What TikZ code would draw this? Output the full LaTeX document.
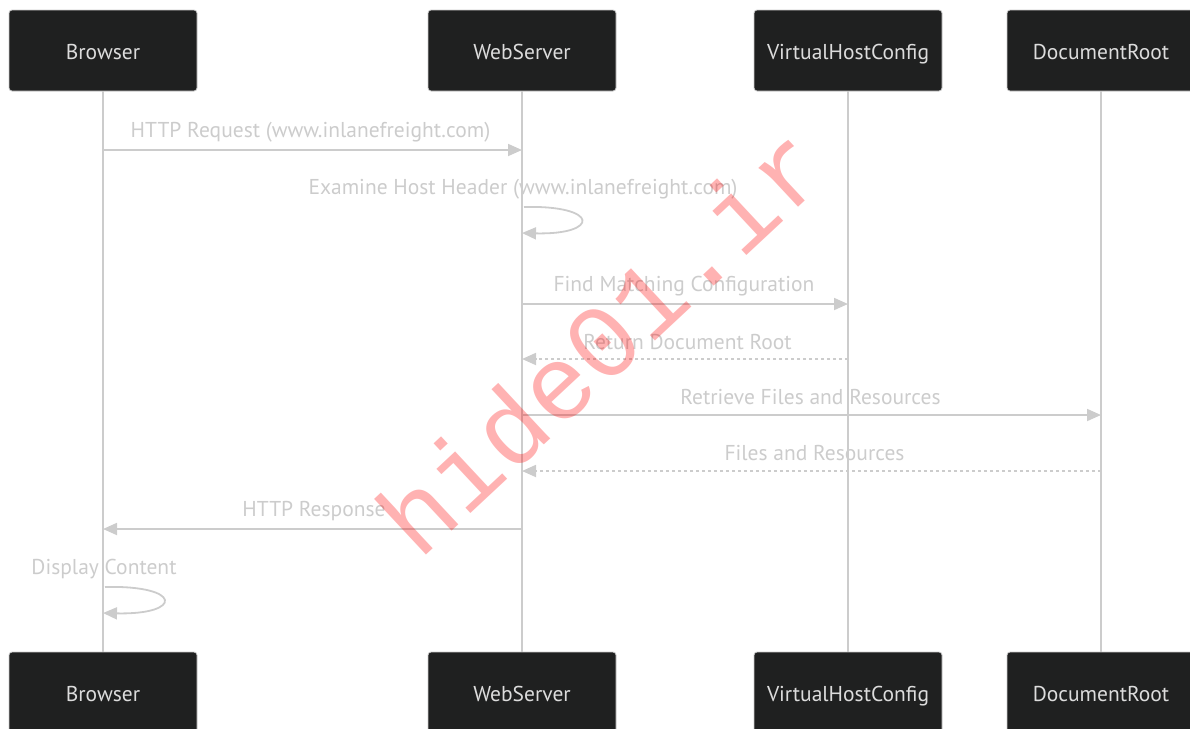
\documentclass[tikz,border=0pt]{standalone}
\usepackage{fontspec}
\setmainfont{PT Sans}
\newfontfamily\wmfont{Liberation Mono}
\usetikzlibrary{arrows.meta}
\definecolor{boxfill}{HTML}{1F2020}
\definecolor{boxtext}{HTML}{DCDCDC}
\definecolor{lline}{HTML}{CCCCCC}
\definecolor{msgtext}{HTML}{CCCCCC}
\tikzset{
  actor/.style={draw=lline, line width=0.8pt, fill=boxfill, rounded corners=3pt, minimum width=188pt, minimum height=81pt, inner sep=0pt, text=boxtext, font=\fontsize{21.5}{24}\selectfont, text height=17pt, text depth=0pt},
  life/.style={draw=lline, line width=2pt},
  msg/.style={draw=lline, line width=1.8pt, -{Triangle[length=14pt,width=12pt]}},
  reply/.style={msg, dash pattern=on 3pt off 3pt},
  lbl/.style={text=msgtext, font=\fontsize{21.5}{24}\selectfont, inner sep=0pt, anchor=base},
}
\begin{document}
\begin{tikzpicture}[x=1pt,y=-1pt]
\useasboundingbox (0,0) rectangle (1190,728);
\clip (0,0) rectangle (1190,728);
% actors
\node[actor] (bT) at (103,50.5) {Browser};
\node[actor] (wT) at (522,50.5) {WebServer};
\node[actor] (vT) at (848,50.5) {VirtualHostConfig};
\node[actor] (dT) at (1101,50.5) {DocumentRoot};
\node[actor] (bB) at (103,692.5) {Browser};
\node[actor] (wB) at (522,692.5) {WebServer};
\node[actor] (vB) at (848,692.5) {VirtualHostConfig};
\node[actor] (dB) at (1101,692.5) {DocumentRoot};
% lifelines
\draw[life] (bT.south) -- (bB.north);
\draw[life] (wT.south) -- (wB.north);
\draw[life] (vT.south) -- (vB.north);
\draw[life] (dT.south) -- (dB.north);
% message points
\coordinate (b1) at (103,150); \coordinate (w1) at (522,150);
\coordinate (w2a) at (524,207); \coordinate (w2b) at (522,233);
\coordinate (w3) at (522,304); \coordinate (v3) at (848,304);
\coordinate (v4) at (848,359); \coordinate (w4) at (522,359);
\coordinate (w5) at (522,415); \coordinate (d5) at (1101,415);
\coordinate (d6) at (1101,471); \coordinate (w6) at (522,471);
\coordinate (w7) at (522,529); \coordinate (b7) at (103,529);
\coordinate (b8a) at (105,587); \coordinate (b8b) at (103,613);
% messages
\draw[msg] (b1) -- (w1);
\node[lbl] (l1) at (310.5,137) {HTTP Request (www.inlanefreight.com)};
\draw[msg] (w2a) .. controls (600,205) and (600,235) .. (w2b);
\node[lbl] (l2) at (523,194) {Examine Host Header (www.inlanefreight.com)};
\draw[msg] (w3) -- (v3);
\node[lbl] (l3) at (684,291) {Find Matching Configuration};
\draw[reply] (v4) -- (w4);
\node[lbl] (l4) at (687.5,349) {Return Document Root};
\draw[msg] (w5) -- (d5);
\node[lbl] (l5) at (810.5,404) {Retrieve Files and Resources};
\draw[reply] (d6) -- (w6);
\node[lbl] (l6) at (814.5,460) {Files and Resources};
\draw[msg] (w7) -- (b7);
\node[lbl] (l7) at (314,516) {HTTP Response};
\draw[msg] (b8a) .. controls (183,585) and (183,615) .. (b8b);
\node[lbl] (l8) at (104,574) {Display Content};
% watermark
\node[text=red, opacity=0.3, rotate=43, font=\wmfont\fontsize{105}{105}\selectfont, inner sep=0pt] (wm) at (601,341) {hide01.ir};
\end{tikzpicture}
\end{document}
